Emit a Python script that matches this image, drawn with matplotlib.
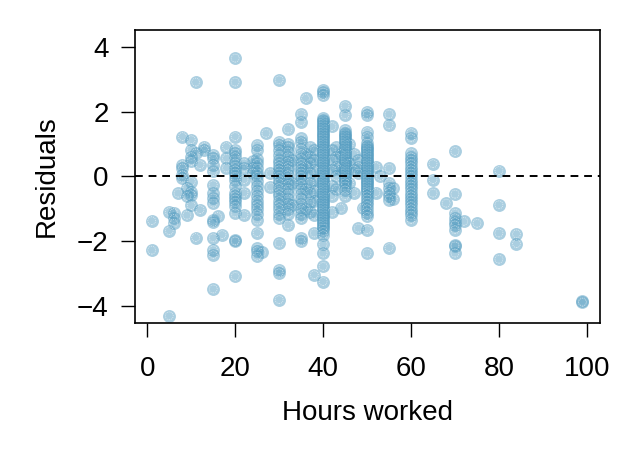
import matplotlib
matplotlib.use("Agg")
import matplotlib.pyplot as plt
import numpy as np

plt.rcParams['font.family'] = ['Liberation Sans', 'DejaVu Sans']

# Residuals, grouped by hours worked
h1 = [-1.37, -2.28]
h5 = [-1.09, -1.68, -4.31]
h6 = [-1.12, -1.3, -1.45]
h7 = [-0.52]
h8 = [1.23, 0.36, 0.26, 0.05, -0.05]
h9 = [-0.35, -0.62, -1.2]
h10 = [1.13, 0.82, 0.61, 0.46, -0.16, -0.47, -0.57, -0.9]
h11 = [2.91, 0.72, -1.89]
h12 = [0.36, -1.03]
h13 = [0.92, 0.82]
h15 = [0.67, 0.56, 0.36, 0.15, -0.26, -0.52, -0.67, -0.83, -1.36, -1.42, -1.9, -2.27, -2.42, -3.48]
h16 = [-1.24]
h17 = [-1.8]
h18 = [0.92, 0.56, 0.26]
h20 = [3.65, 2.91, 1.23, 0.82, 0.72, 0.61, 0.41, 0.31, 0.2, 0.1, 0.0, -0.1, -0.31,
       -0.5, -0.6, -0.7, -0.8, -0.93, -1.13, -1.98, -2.0, -3.09]
h22 = [0.41, 0.26, -0.1, -0.51, -1.19]
h24 = [0.46, 0.26, 0.1]
h25 = [0.97, 0.82, 0.55, 0.4, 0.25, 0.1, 0.0, -0.15, -0.3, -0.45, -0.6, -0.75, -0.9,
       -1.0, -1.16, -1.35, -1.74, -2.22, -2.3, -2.47]
h26 = [-2.35]
h27 = [1.33]
h28 = [0.1, -0.33]
h30 = [2.98, 1.07, 0.98, 0.8, 0.65, 0.5, 0.4, 0.3, 0.2, 0.1, 0.0, -0.1, -0.2, -0.35,
       -0.5, -0.6, -0.75, -0.9, -1.0, -1.15, -1.3, -2.06, -2.88, -2.98, -3.81]
h32 = [1.46, 1.0, 0.9, 0.75, 0.6, 0.45, 0.3, 0.2, 0.05, -0.1, -0.25, -0.4, -0.55,
       -0.7, -0.85, -1.0, -1.15, -1.5]
h33 = [0.5, -0.2, -0.9]
h35 = [1.93, 1.69, 1.17, 1.07, 0.85, 0.7, 0.55, 0.4, 0.3, 0.2, 0.1, 0.0, -0.1, -0.25,
       -0.4, -0.55, -0.7, -0.85, -1.0, -1.15, -1.3, -1.9, -2.0]
h36 = [2.41, 0.7, 0.3, -0.4, -1.0]
h37 = [0.9, 0.6, 0.4, 0.1, -0.2, -0.5, -0.8, -1.1]
h38 = [0.82, 0.5, 0.2, -0.1, -0.45, -0.75, -1.2, -1.75, -3.04]
h40 = [2.67, 2.6, 2.5, 1.8, 1.75, 1.7, 1.65, 1.6, 1.55, 1.5, 1.45, 1.4, 1.35, 1.3,
       1.25, 1.2, 1.15, 1.1, 1.05, 1.0, 0.95, 0.9, 0.85, 0.8, 0.75, 0.7, 0.65, 0.6,
       0.55, 0.5, 0.45, 0.4, 0.35, 0.3, 0.25, 0.2, 0.15, 0.1, 0.05, 0.0, -0.05, -0.1,
       -0.15, -0.2, -0.25, -0.3, -0.35, -0.4, -0.45, -0.5, -0.55, -0.6, -0.65, -0.7,
       -0.75, -0.8, -0.85, -0.9, -0.95, -1.0, -1.05, -1.1, -1.15, -1.2, -1.25, -1.3,
       -1.35, -1.4, -1.45, -1.5, -1.55, -1.6, -1.7, -1.8, -2.1, -2.37, -2.78, -3.25]
h42 = [1.54, 0.8, 0.5, 0.2, -0.3, -0.6, -1.1]
h43 = [0.9, 0.6, 0.3, 0.0, -0.4]
h44 = [0.7, 0.2, -0.98]
h45 = [2.18, 1.9, 1.43, 1.35, 1.3, 1.25, 1.2, 1.15, 1.1, 1.05, 1.0, 0.95, 0.9, 0.85,
       0.8, 0.75, 0.7, 0.65, 0.6, 0.55, 0.5, 0.45, 0.4, 0.35, 0.3, 0.25, 0.2, 0.15,
       0.1, 0.05, 0.0, -0.05, -0.1, -0.15, -0.2, -0.3, -0.42, -0.6]
h46 = [1.0, 0.4, -0.2]
h47 = [0.7, 0.2, -0.5]
h48 = [0.5, 0.3, 0.1, -1.6]
h49 = [-0.98]
h50 = [2.0, 1.9, 1.38, 1.23, 1.02, 0.95, 0.9, 0.85, 0.8, 0.75, 0.7, 0.65, 0.6, 0.55,
       0.5, 0.45, 0.4, 0.35, 0.3, 0.25, 0.2, 0.15, 0.1, 0.05, 0.0, -0.05, -0.1, -0.15,
       -0.2, -0.25, -0.3, -0.35, -0.4, -0.45, -0.5, -0.6, -0.7, -0.8, -0.9, -1.0,
       -1.12, -1.24, -1.65, -2.37]
h52 = [0.3, -0.5]
h53 = [0.0]
h55 = [1.92, 1.59, 0.25, -0.2, -0.35, -0.5, -0.62, -0.73, -2.2]
h56 = [-0.37, -0.7]
h60 = [1.35, 1.19, 0.72, 0.6, 0.5, 0.4, 0.3, 0.2, 0.1, 0.0, -0.1, -0.2, -0.3, -0.4,
       -0.5, -0.6, -0.7, -0.8, -0.9, -1.0, -1.1, -1.2, -1.34]
h65 = [0.39, -0.1, -0.52]
h68 = [-0.83]
h70 = [0.77, -0.55, -1.14, -1.28, -1.4, -1.5, -1.65, -2.11, -2.15, -2.37]
h72 = [-1.39]
h75 = [-1.45]
h80 = [0.18, -0.88, -1.75, -2.56]
h84 = [-1.78, -2.08]
h99 = [-3.89, -3.86]

hour_values = [1, 5, 6, 7, 8, 9, 10, 11, 12, 13, 15, 16, 17, 18, 20, 22, 24, 25, 26,
               27, 28, 30, 32, 33, 35, 36, 37, 38, 40, 42, 43, 44, 45, 46, 47, 48, 49,
               50, 52, 53, 55, 56, 60, 65, 68, 70, 72, 75, 80, 84, 99]
residual_groups = [h1, h5, h6, h7, h8, h9, h10, h11, h12, h13, h15, h16, h17, h18, h20,
                   h22, h24, h25, h26, h27, h28, h30, h32, h33, h35, h36, h37, h38, h40,
                   h42, h43, h44, h45, h46, h47, h48, h49, h50, h52, h53, h55, h56, h60,
                   h65, h68, h70, h72, h75, h80, h84, h99]

hours = np.concatenate([[h] * len(g) for h, g in zip(hour_values, residual_groups)])
resid = np.concatenate([np.array(g, dtype=float) for g in residual_groups])

fig = plt.figure(figsize=(6.29, 4.5), dpi=100)
ax = fig.add_axes([135 / 629, 1 - 323 / 450, (600 - 135) / 629, (323 - 30) / 450])

col = (0.337, 0.62, 0.76)
# draw point by point (fill, then its white dotted ring) so later points cover earlier rings
order = np.argsort(resid)[::-1]
for i in order:
    ax.scatter([hours[i]], [resid[i]], s=86, color=col, alpha=0.5, linewidths=0, zorder=2)
    ax.scatter([hours[i]], [resid[i]], s=32, facecolors='none',
               edgecolors=[(1, 1, 1, 0.6)], linewidths=0.6,
               linestyles=[(0, (1.2, 1.2))], zorder=2)

ax.axhline(0, color='black', lw=1.4, ls=(0, (4, 3)), zorder=4)

ax.set_xlim(-2.8, 103.0)
ax.set_ylim(-4.53, 4.52)
ax.set_xticks([0, 20, 40, 60, 80, 100])
ax.set_yticks([-4, -2, 0, 2, 4])
ax.set_yticklabels(['\u22124', '\u22122', '0', '2', '4'])
ax.tick_params(direction='out', length=10, width=1, labelsize=20, colors='black')
ax.tick_params(axis='x', pad=14)
ax.tick_params(axis='y', pad=9)
for s in ax.spines.values():
    s.set_linewidth(1.2)

ax.set_xlabel('Hours worked', fontsize=20, labelpad=13)
ax.set_ylabel('Residuals', fontsize=20, labelpad=12)

fig.savefig('out.png', dpi=100)
